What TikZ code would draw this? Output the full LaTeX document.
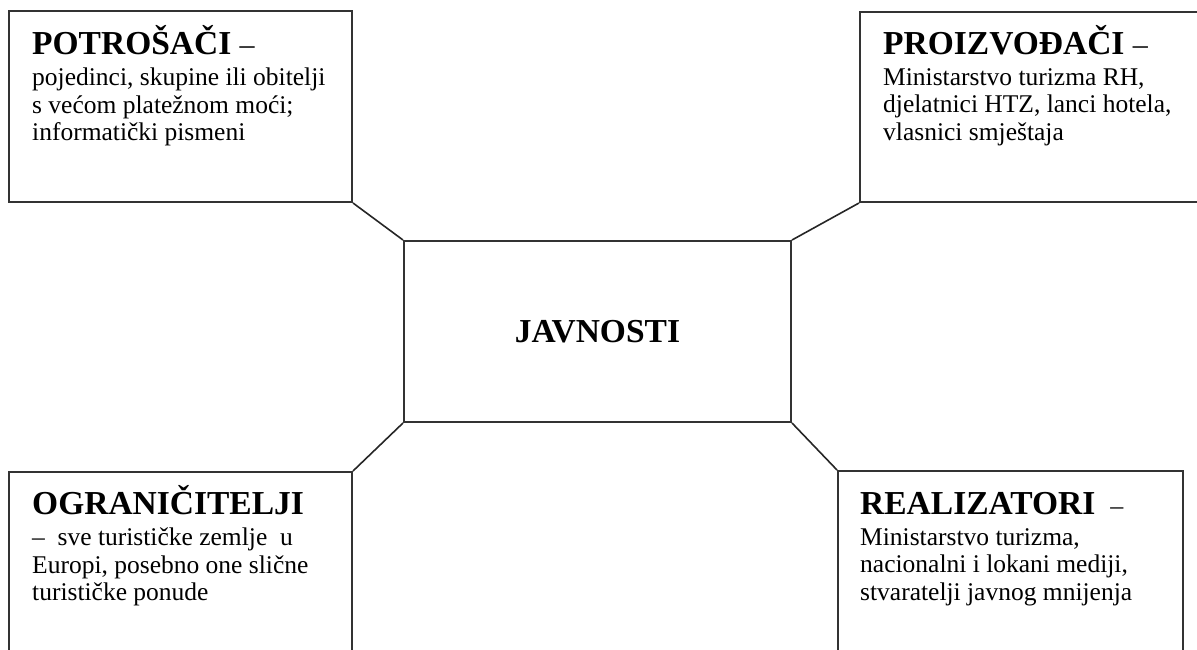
\documentclass[tikz,border=0pt]{standalone}
\usepackage{fontspec}
\setmainfont{Liberation Serif}
\newcommand\hdfont{\fontsize{33.5}{27.5}\selectfont\bfseries}
\newcommand\bdfont{\fontsize{25.5}{27.5}\selectfont\mdseries}
\tikzset{
  box/.style={draw=black!80, line width=2pt, rectangle, inner sep=0pt},
  conn/.style={draw=black!85, line width=1.6pt},
  txt/.style={anchor=base west, inner sep=0pt, text=black},
}
\begin{document}
\begin{tikzpicture}[x=1pt,y=-1pt]
\useasboundingbox (0,0) rectangle (1197,649);
\clip (0,0) rectangle (1197,649);
% boxes
\node[box, minimum width=343pt, minimum height=191pt] (tl) at (180.5,106.5) {};
\node[box, minimum width=350pt, minimum height=190pt] (tr) at (1035,107) {};
\node[box, minimum width=387pt, minimum height=181pt, font=\hdfont] (c) at (597.5,331.5) {JAVNOSTI};
\node[box, minimum width=343pt, minimum height=230pt] (bl) at (180.5,587) {};
\node[box, minimum width=345pt, minimum height=230pt] (br) at (1010.5,586) {};
% connectors
\draw[conn] (tl.south east) -- (c.north west);
\draw[conn] (c.north east) -- (tr.south west);
\draw[conn] (c.south west) -- (bl.north east);
\draw[conn] (c.south east) -- (br.north west);
% texts
\node[txt] (tltext) at (32,54.5) {\parbox[t]{330pt}{\raggedright\hdfont POTROŠAČI {\bdfont\fontsize{30}{27.5}\selectfont –}\\[3.5pt]\bdfont pojedinci, skupine ili obitelji\\ s većom platežnom moći;\\ informatički pismeni}};
\node[txt] (trtext) at (883,54) {\parbox[t]{320pt}{\raggedright\hdfont PROIZVOĐAČI {\bdfont\fontsize{30}{27.5}\selectfont –}\\[3.5pt]\bdfont Ministarstvo turizma RH,\\ djelatnici HTZ, lanci hotela,\\ vlasnici smještaja}};
\node[txt] (bltext) at (32,514.5) {\parbox[t]{320pt}{\raggedright\hdfont OGRANIČITELJI\\[3.5pt]\bdfont –\ \ sve turističke zemlje\ \ u\\ Europi, posebno one slične\\ turističke ponude}};
\node[txt] (brtext) at (860,514) {\parbox[t]{320pt}{\raggedright\hdfont REALIZATORI {\bdfont\fontsize{26}{27.5}\selectfont\ –}\\[3.5pt]\bdfont Ministarstvo turizma,\\ nacionalni i lokani mediji,\\ stvaratelji javnog mnijenja}};
\end{tikzpicture}
\end{document}
